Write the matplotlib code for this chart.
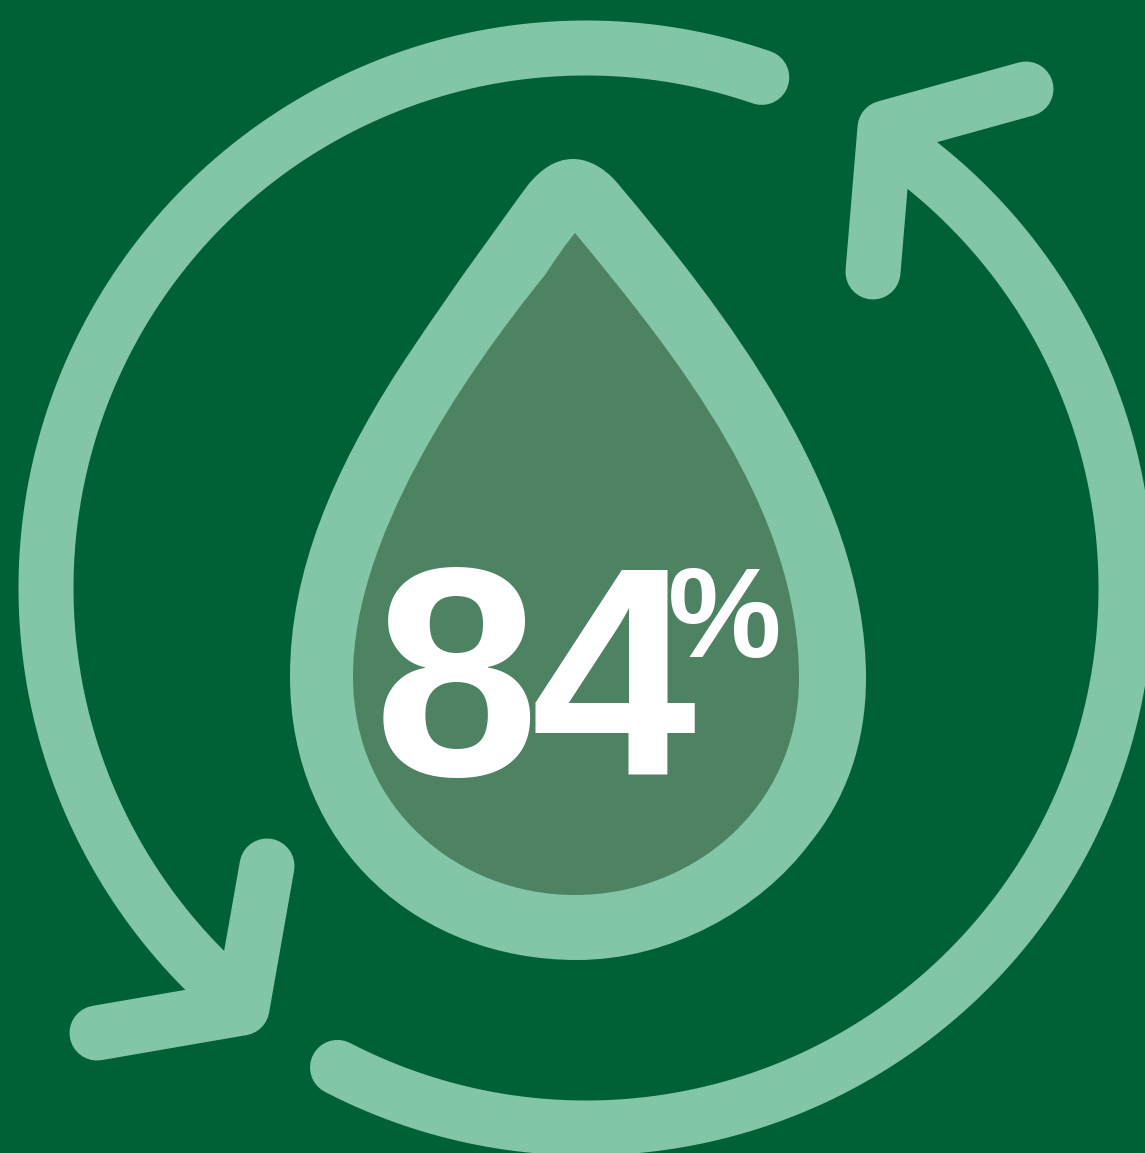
import numpy as np
import matplotlib
matplotlib.use("Agg")
import matplotlib.pyplot as plt
from matplotlib.path import Path
from matplotlib.patches import PathPatch

# values
share_digits = ["8", "4"]
share_unit = "%"

# colours
bg_col = "#006137"
light_col = "#82C5A7"
inner_col = "#4D8263"

# icon geometry, in pixels of the picture
ring_x, ring_y, ring_r = 586, 588, 540
ring_w = 55
arc1 = (-71.0, -225.5)   # top right, going over the top to bottom left
arc2 = (117.4, -52.0)    # bottom left, going under to top right
head1_x = [1026, 885, 873]
head1_y = [89, 128, 272]
head2_x = [267, 242, 97]
head2_y = [866, 1008, 1033]

drop_outer = [(573, 159),
              (600, 159), (619, 185), (619, 185),
              (720, 305), (866, 490), (866, 678),
              (866, 745), (845, 800), (810, 843),
              (760, 910), (670, 960), (577, 960),
              (420, 960), (290, 850), (290, 676),
              (290, 570), (335, 470), (395, 375),
              (450, 290), (528, 185), (528, 185),
              (540, 170), (555, 159), (573, 159)]
drop_inner = [(575, 233),
              (680, 360), (799, 510), (799, 678),
              (799, 810), (690, 895), (575, 895),
              (460, 895), (353, 810), (353, 676),
              (353, 540), (460, 380), (545, 275),
              (555, 260), (565, 245), (575, 233)]


def bezier(pts):
    codes = [Path.MOVETO] + [Path.CURVE4] * (len(pts) - 1)
    return Path(pts, codes)


fig = plt.figure(figsize=(11.45, 11.53), dpi=100, facecolor=bg_col)
ax = fig.add_axes([0, 0, 1, 1])
ax.set_xlim(0, 1145)
ax.set_ylim(1153, 0)
ax.axis("off")

lw = ring_w * 0.72
for a0, a1 in (arc1, arc2):
    t = np.radians(np.linspace(a0, a1, 300))
    ax.plot(ring_x + ring_r * np.cos(t), ring_y + ring_r * np.sin(t),
            color=light_col, lw=lw, solid_capstyle="round")
ax.plot(head1_x, head1_y, color=light_col, lw=lw,
        solid_capstyle="round", solid_joinstyle="round")
ax.plot(head2_x, head2_y, color=light_col, lw=lw,
        solid_capstyle="round", solid_joinstyle="round")

ax.add_patch(PathPatch(bezier(drop_outer), fc=light_col, ec="none"))
ax.add_patch(PathPatch(bezier(drop_inner), fc=inner_col, ec="none"))

# the digits sit tighter than the font's own spacing
for digit, x in zip(share_digits, [456, 613]):
    ax.text(x, 775, digit, color="white", fontsize=214, fontweight="bold",
            family="Liberation Sans", ha="center", va="baseline")
ax.text(725, 657, share_unit, color="white", fontsize=92, fontweight="bold",
        family="Liberation Sans", ha="center", va="baseline")

fig.savefig("out.png", dpi=100, facecolor=bg_col)
